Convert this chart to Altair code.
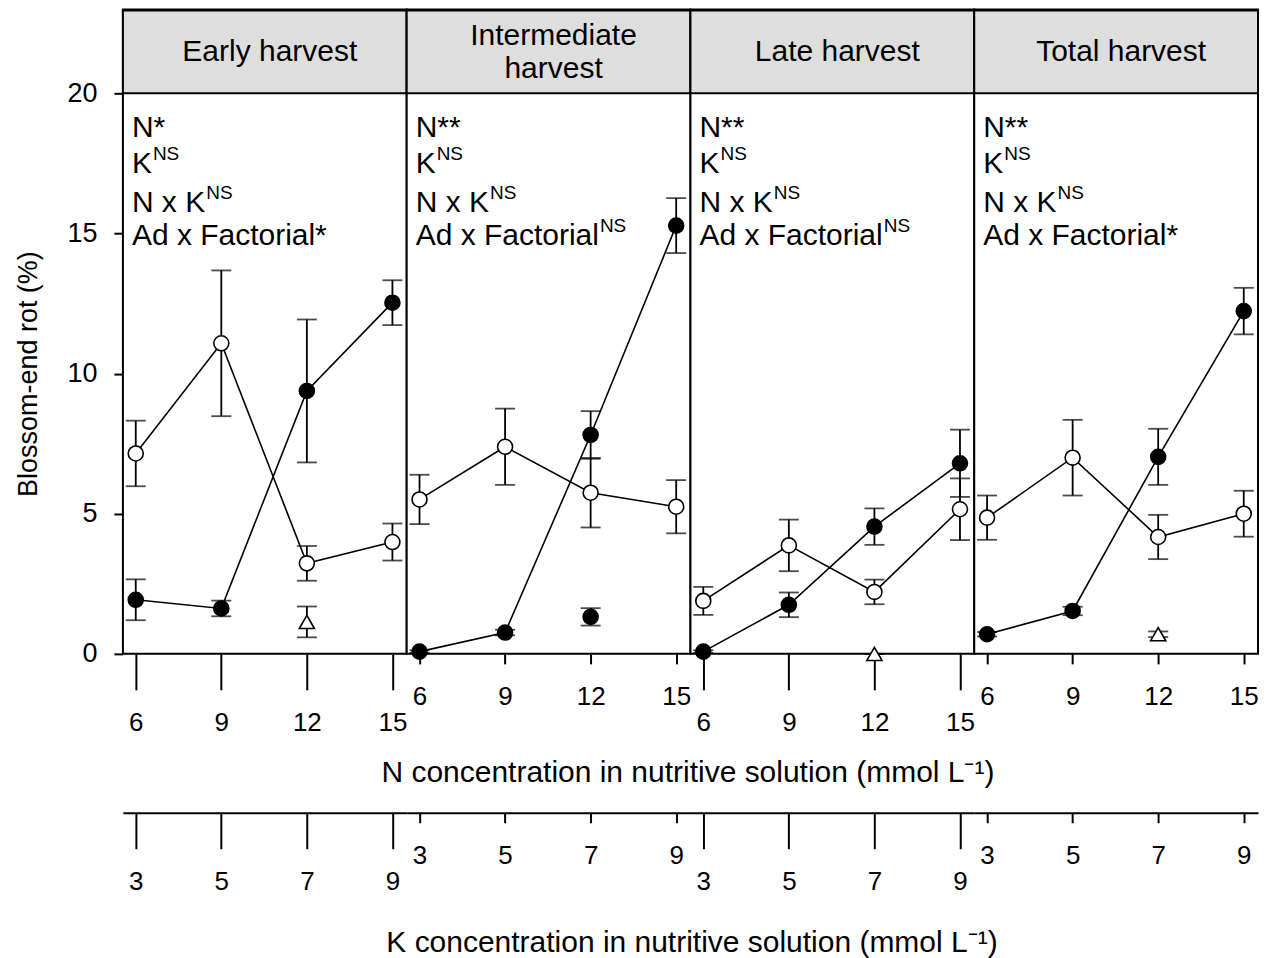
import altair as alt
import pandas as pd

FONT = "Liberation Sans"

# ---------------- data ----------------
panel_titles = ["Early harvest", "Intermediate\nharvest", "Late harvest", "Total harvest"]
n_levels = [6, 9, 12, 15]
k_levels = [3, 5, 7, 9]

open_mean = [[7.15, 11.08, 3.23, 3.99],
             [5.51, 7.39, 5.75, 5.25],
             [1.89, 3.87, 2.21, 5.16],
             [4.86, 7.00, 4.17, 5.00]]
open_se = [[1.17, 2.60, 0.62, 0.66],
           [0.88, 1.36, 1.24, 0.95],
           [0.50, 0.92, 0.44, 1.10],
           [0.79, 1.35, 0.79, 0.82]]
filled_mean = [[1.93, 1.62, 9.38, 12.53],
               [0.08, 0.76, 7.81, 15.28],
               [0.08, 1.75, 4.54, 6.80],
               [0.70, 1.53, 7.03, 12.23]]
filled_se = [[0.73, 0.28, 2.55, 0.80],
             [0.05, 0.10, 0.85, 0.98],
             [0.05, 0.44, 0.65, 1.20],
             [0.08, 0.15, 1.00, 0.83]]

add_n = [12]
add_k = [7]
add_mean = [1.14, 1.32, 0.00, 0.70]
add_se = [0.55, 0.31, 0.00, 0.10]
add_shape = ["triangle-up", "circle", "triangle-up", "triangle-up"]
add_fill = ["white", "black", "white", "white"]

sig_n = ["*", "**", "**", "**"]
sig_k = ["NS", "NS", "NS", "NS"]
sig_nk = ["NS", "NS", "NS", "NS"]
sig_adf = ["*", "NS", "NS", "*"]

y_ticks = [0, 5, 10, 15, 20]
y_max = 20

# ---------------- layout constants ----------------
PW = 284
PH = 561          # 0..20 part
HH = 84           # header strip
TOTAL_H = PH + HH
Y_TOP = y_max * TOTAL_H / PH
N_DOMAIN = [5.55, 15.5]
K_DOMAIN = [2 * N_DOMAIN[0] / 3 - 1, 2 * N_DOMAIN[1] / 3 - 1]
HDR_LH = 33
ANN_FS = 30
SUP_FS = 19

ARIAL = {"N": 722, "K": 667, " ": 278, "x": 500, "A": 667, "d": 556, "F": 611,
         "a": 556, "c": 500, "t": 278, "o": 556, "r": 333, "i": 222, "l": 222, "*": 389}


def text_width(s, size):
    return sum(ARIAL.get(ch, 556) for ch in s) * size / 1000.0


def panel(i):
    rows = []
    for g, m, s in (("open", open_mean[i], open_se[i]), ("filled", filled_mean[i], filled_se[i])):
        for n, k, mv, sv in zip(n_levels, k_levels, m, s):
            rows.append(dict(group=g, N=n, K=k, mean=mv, lo=max(0.0, mv - sv), hi=mv + sv))
    df = pd.DataFrame(rows)
    add = pd.DataFrame([dict(N=add_n[0], K=add_k[0], mean=add_mean[i],
                             lo=max(0.0, add_mean[i] - add_se[i]),
                             hi=add_mean[i] + add_se[i])])

    long_ticks = (i % 2 == 0)
    tsize = 36 if long_ticks else 10

    x_axis = alt.Axis(values=n_levels, tickSize=tsize, tickWidth=2, tickColor="black",
                      labelFontSize=26, labelPadding=20, labelColor="black", labelFont=FONT,
                      labelFlush=False, labelOverlap=False, domain=False, grid=False,
                      title=("N concentration in nutritive solution (mmol L\u207b\u00b9)" if i == 1 else None),
                      titleFontSize=30, titleFontWeight="normal", titleColor="black", titleFont=FONT,
                      titleX=281, titleY=119, titleBaseline="middle", titleAlign="center", titleAnchor="start")
    x_scale = alt.Scale(domain=N_DOMAIN, nice=False, zero=False)

    if i == 0:
        y_axis = alt.Axis(values=y_ticks, tickSize=9, tickWidth=2, tickColor="black",
                          labelFontSize=27, labelPadding=17, labelColor="black", labelFont=FONT,
                          domain=False, grid=False, title="Blossom-end rot (%)",
                          titleFontSize=27, titleFontWeight="normal", titleColor="black",
                          titleFont=FONT, titlePadding=24, titleY=PH / 2 + HH)
    else:
        y_axis = None
    y_scale = alt.Scale(domain=[0, Y_TOP], nice=False, zero=False)

    def X(field="N"):
        return alt.X(f"{field}:Q", scale=x_scale, axis=x_axis)

    def Y(field):
        if y_axis is None:
            return alt.Y(f"{field}:Q", scale=y_scale, axis=None)
        return alt.Y(f"{field}:Q", scale=y_scale, axis=y_axis)

    # header strip (gray band above y = 20)
    n_lines = panel_titles[i].count("\n") + 1
    hdr_df = pd.DataFrame({"t": [panel_titles[i]], "y0": [y_max]})
    hdr_rect = alt.Chart(hdr_df).mark_rect(fill="#dedede", stroke="black", strokeWidth=2).encode(
        x=alt.value(0), x2=alt.value(PW), y=Y("y0"), y2=alt.value(1))
    hdr_text = alt.Chart(hdr_df).mark_text(
        font=FONT, fontSize=30, lineBreak="\n", lineHeight=HDR_LH, baseline="middle", align="center",
        color="black"
    ).encode(text="t:N", x=alt.value(147), y=alt.value(43 - (n_lines - 1) * HDR_LH / 2))

    base = alt.Chart(df)
    lines = base.mark_line(color="black", strokeWidth=1.6).encode(x=X(), y=Y("mean"), detail="group:N")
    bars = base.mark_rule(color="black", strokeWidth=1.8).encode(x=X(), y=Y("lo"), y2="hi:Q")
    cap_hi = base.mark_tick(color="black", orient="horizontal", size=20, thickness=1.8).encode(x=X(), y=Y("hi"))
    cap_lo = base.mark_tick(color="black", orient="horizontal", size=20, thickness=1.8).encode(x=X(), y=Y("lo"))

    abase = alt.Chart(add)
    a_bar = abase.mark_rule(color="black", strokeWidth=1.8).encode(x=X(), y=Y("lo"), y2="hi:Q")
    a_hi = abase.mark_tick(color="black", orient="horizontal", size=20, thickness=1.8).encode(x=X(), y=Y("hi"))
    a_lo = abase.mark_tick(color="black", orient="horizontal", size=20, thickness=1.8).encode(x=X(), y=Y("lo"))

    p_open = alt.Chart(df[df.group == "open"]).mark_point(
        shape="circle", size=225, filled=True, fill="white", stroke="black", strokeWidth=1.6, opacity=1
    ).encode(x=X(), y=Y("mean"))
    p_filled = alt.Chart(df[df.group == "filled"]).mark_point(
        shape="circle", size=225, filled=True, fill="black", stroke="black", strokeWidth=1.6, opacity=1
    ).encode(x=X(), y=Y("mean"))
    p_add = abase.mark_point(
        shape=add_shape[i], size=(225 if add_shape[i] == "circle" else 230), filled=True,
        fill=add_fill[i], stroke="black", strokeWidth=1.6, opacity=1
    ).encode(x=X(), y=Y("mean"))

    # significance annotations
    texts = []
    ann = [("N", sig_n[i]), ("K", sig_k[i]), ("N x K", sig_nk[i]), ("Ad x Factorial", sig_adf[i])]
    baselines = [44, 80, 119, 152]
    for (main, sig), yb in zip(ann, baselines):
        if sig == "NS":
            main_txt, sup = main, "NS"
        else:
            main_txt, sup = main + sig, None
        tdf = pd.DataFrame({"t": [main_txt]})
        texts.append(alt.Chart(tdf).mark_text(font=FONT, fontSize=ANN_FS, align="left", baseline="alphabetic",
                                               color="black").encode(text="t:N", x=alt.value(9),
                                                                     y=alt.value(HH + yb)))
        if sup:
            sdf = pd.DataFrame({"t": [sup]})
            texts.append(alt.Chart(sdf).mark_text(font=FONT, fontSize=SUP_FS, align="left", baseline="alphabetic",
                                                   color="black").encode(
                text="t:N", x=alt.value(9 + text_width(main, ANN_FS) + 1), y=alt.value(HH + yb - 13)))

    inner = alt.layer(hdr_rect, hdr_text, lines, bars, cap_hi, cap_lo, a_bar, a_hi, a_lo,
                      p_open, p_filled, p_add, *texts)

    k_axis = alt.Axis(values=k_levels, orient="bottom", offset=159, tickSize=tsize, tickWidth=2,
                      tickColor="black", labelFontSize=26, labelPadding=20, labelColor="black",
                      labelFont=FONT, labelFlush=False, labelOverlap=False, domain=True,
                      domainColor="black", domainWidth=2, grid=False,
                      title=("K concentration in nutritive solution (mmol L\u207b\u00b9)" if i == 1 else None),
                      titleFontSize=30, titleFontWeight="normal", titleColor="black", titleFont=FONT,
                      titleX=285, titleY=130, titleBaseline="middle", titleAlign="center", titleAnchor="start")
    kdf = pd.DataFrame({"K": k_levels})
    k_layer = alt.Chart(kdf).mark_point(opacity=0, size=1).encode(
        x=alt.X("K:Q", scale=alt.Scale(domain=K_DOMAIN, nice=False, zero=False), axis=k_axis),
        y=alt.value(TOTAL_H / 2),
    )

    return alt.layer(inner, k_layer).resolve_scale(x="independent").properties(
        width=PW, height=TOTAL_H,
    )


chart = alt.hconcat(*[panel(i) for i in range(4)], spacing=0, bounds="flush").configure(
    padding={"left": 5, "top": 0, "right": 5, "bottom": 5}, font=FONT
).configure_view(stroke="black", strokeWidth=2, fill="white")

chart.save("out.html", embed_options={"renderer": "svg", "actions": False})
